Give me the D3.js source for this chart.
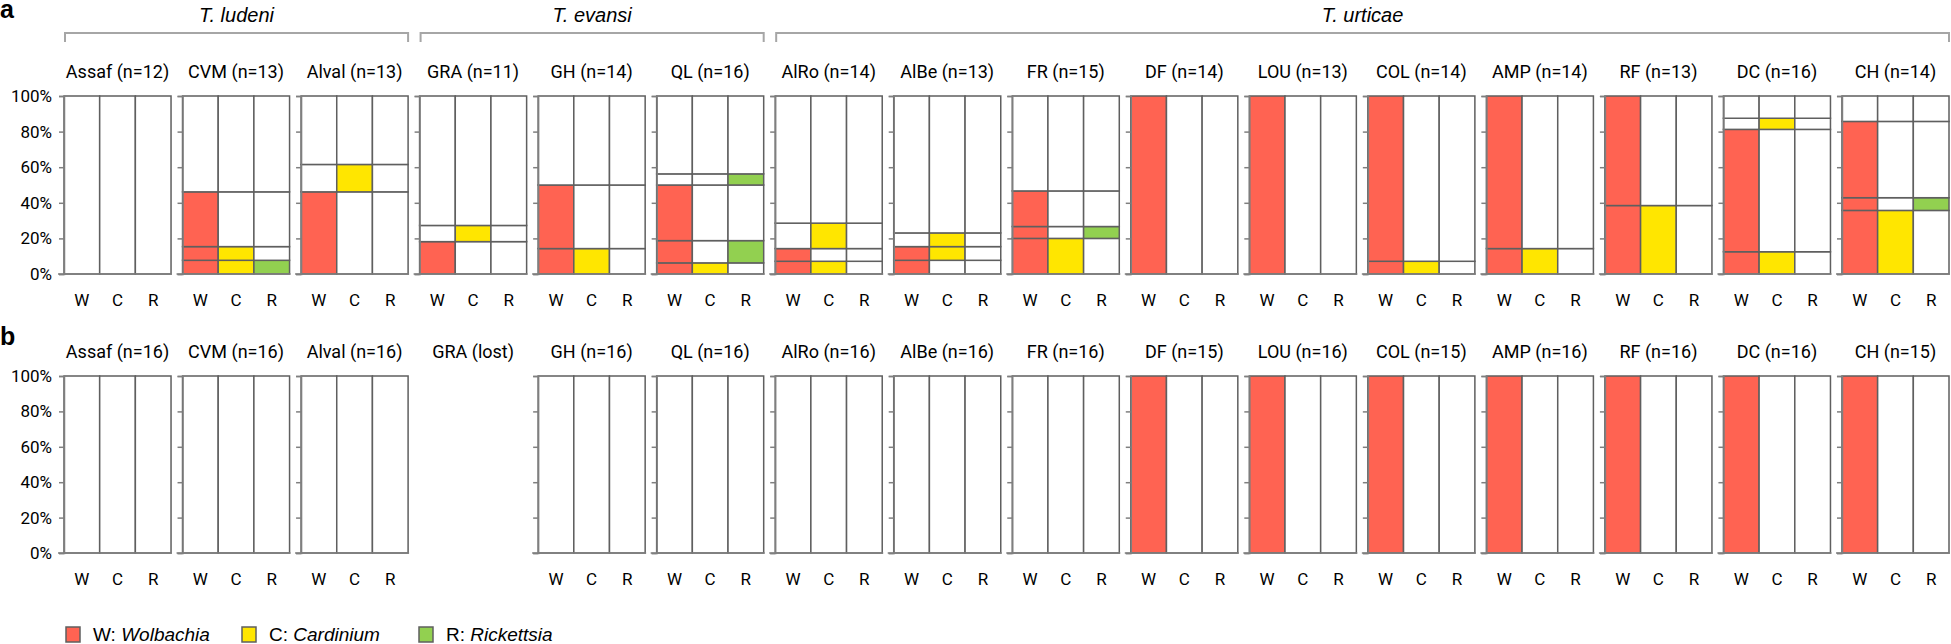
<!DOCTYPE html>
<html>
<head>
<meta charset="utf-8">
<script src="https://cdn.jsdelivr.net/npm/d3@7"></script>
<style>
  body { margin: 0; background: #fff; }
  text { fill: #000; }
</style>
</head>
<body>
<div id="chart"></div>
<script>
var width = 1951;
var height = 644;

// populations (same order in both panels)
var populations = ["Assaf", "CVM", "Alval", "GRA", "GH", "QL", "AlRo", "AlBe", "FR",
                   "DF", "LOU", "COL", "AMP", "RF", "DC", "CH"];
var nA = [12, 13, 13, 11, 14, 16, 14, 13, 15, 14, 13, 14, 14, 13, 16, 14];
var nB = [16, 16, 16, null, 16, 16, 16, 16, 16, 15, 16, 15, 16, 16, 16, 15];

// species brackets
var speciesNames = ["T. ludeni", "T. evansi", "T. urticae"];
var speciesFirst = ["Assaf", "GRA", "AlRo"];
var speciesLast = ["Alval", "QL", "CH"];

var symbionts = ["W", "C", "R"];
var symbiontNames = ["Wolbachia", "Cardinium", "Rickettsia"];
var symbiontColors = ["#ff6352", "#ffe600", "#92d050"];

// infection profiles per population, stacked from the bottom: [profile, number of mites]
// whatever is left up to n is uninfected
var bandsA = [
  [],
  [["WCR", 1], ["WC", 1], ["W", 4]],
  [["W", 6], ["C", 2]],
  [["W", 2], ["C", 1]],
  [["WC", 2], ["W", 5]],
  [["WC", 1], ["WR", 2], ["W", 5], ["R", 1]],
  [["WC", 1], ["W", 1], ["C", 2]],
  [["W", 1], ["WC", 1], ["C", 1]],
  [["WC", 3], ["WR", 1], ["W", 3]],
  [["W", 14]],
  [["W", 13]],
  [["WC", 1], ["W", 13]],
  [["WC", 2], ["W", 12]],
  [["WC", 5], ["W", 8]],
  [["WC", 2], ["W", 11], ["C", 1]],
  [["WC", 5], ["WR", 1], ["W", 6]]
];
var bandsB = [
  [], [], [], null, [], [], [], [], [],
  [["W", 15]],
  [["W", 16]],
  [["W", 15]],
  [["W", 16]],
  [["W", 16]],
  [["W", 16]],
  [["W", 15]]
];

var yTicks = [0, 0.2, 0.4, 0.6, 0.8, 1];

var lineCol = "#5f5f5f";
var axisCol = "#7f7f7f";

var svg = d3.select("#chart").append("svg")
  .attr("width", width)
  .attr("height", height)
  .style("font-family", "Roboto, 'Open Sans', sans-serif");

var xPanel = d3.scaleBand()
  .domain(populations)
  .range([64, 1949])
  .paddingInner(0.097)
  .paddingOuter(0);

var xBar = d3.scaleBand()
  .domain(symbionts)
  .range([0, xPanel.bandwidth()]);

var colorOf = d3.scaleOrdinal().domain(symbionts).range(symbiontColors);

// species labels and brackets
speciesNames.forEach(function (name, i) {
  var x0 = xPanel(speciesFirst[i]) + 1;
  var x1 = xPanel(speciesLast[i]) + xPanel.bandwidth();
  svg.append("path")
    .attr("d", "M" + x0 + ",42V33H" + x1 + "V42")
    .attr("fill", "none")
    .attr("stroke", "#a6a6a6")
    .attr("stroke-width", 2);
  svg.append("text")
    .attr("x", (x0 + x1) / 2)
    .attr("y", 22)
    .attr("text-anchor", "middle")
    .style("font-family", "'Liberation Sans', Arial, sans-serif")
    .style("font-style", "italic")
    .style("font-size", "20px")
    .text(name);
});

function drawRow(letter, letterY, counts, bands, top, bottom) {
  var y = d3.scaleLinear().domain([0, 1]).range([bottom, top]);

  svg.append("text")
    .attr("x", 0)
    .attr("y", letterY)
    .style("font-family", "'Liberation Sans', Arial, sans-serif")
    .style("font-weight", "bold")
    .style("font-size", "25px")
    .text(letter);

  populations.forEach(function (pop, i) {
    var px = xPanel(pop);
    var g = svg.append("g").attr("transform", "translate(" + px + ",0)");

    // title
    g.append("text")
      .attr("x", xPanel.bandwidth() / 2)
      .attr("y", top - 18)
      .attr("text-anchor", "middle")
      .style("font-size", "18px")
      .text(counts[i] == null ? pop + " (lost)" : pop + " (n=" + counts[i] + ")");

    if (bands[i] == null) return;

    var n = counts[i];
    // stack the bands, add the uninfected rest on top
    var stack = [];
    var acc = 0;
    bands[i].forEach(function (b) {
      stack.push({ profile: b[0], y0: acc / n, y1: (acc + b[1]) / n });
      acc += b[1];
    });
    if (acc < n) stack.push({ profile: "", y0: acc / n, y1: 1 });

    symbionts.forEach(function (s) {
      g.append("g").selectAll("rect")
        .data(stack)
        .enter()
        .append("rect")
        .attr("x", xBar(s))
        .attr("width", xBar.bandwidth())
        .attr("y", function (d) { return y(d.y1); })
        .attr("height", function (d) { return y(d.y0) - y(d.y1); })
        .attr("fill", function (d) { return d.profile.indexOf(s) >= 0 ? colorOf(s) : "#fff"; })
        .attr("stroke", lineCol)
        .attr("stroke-width", 1.5);
    });

    // left axis
    var axis = g.append("g")
      .call(d3.axisLeft(y).tickValues(yTicks).tickSize(5)
        .tickFormat(i === 0 ? d3.format(".0%") : function () { return ""; }));
    axis.select(".domain").attr("stroke", axisCol).attr("stroke-width", 1.5);
    axis.selectAll(".tick line").attr("stroke", axisCol).attr("stroke-width", 1.5);
    axis.selectAll(".tick text")
      .attr("x", -12)
      .style("font-family", "Roboto, sans-serif")
      .style("font-size", "17px")
      .attr("fill", "#000");

    // baseline
    g.append("line")
      .attr("x1", -6).attr("x2", xPanel.bandwidth() + 1)
      .attr("y1", y(0)).attr("y2", y(0))
      .attr("stroke", axisCol)
      .attr("stroke-width", 1.5);

    // bar labels
    g.selectAll(".blab")
      .data(symbionts)
      .enter()
      .append("text")
      .attr("x", function (d) { return xBar(d) + xBar.bandwidth() / 2; })
      .attr("y", bottom + 32)
      .attr("text-anchor", "middle")
      .style("font-size", "17px")
      .text(function (d) { return d; });
  });
}

drawRow("a", 18, nA, bandsA, 96, 274);
drawRow("b", 345, nB, bandsB, 376, 553);

// legend
var legendX = [66, 242, 419];
symbionts.forEach(function (s, i) {
  svg.append("rect")
    .attr("x", legendX[i]).attr("y", 627)
    .attr("width", 14).attr("height", 15)
    .attr("fill", symbiontColors[i])
    .attr("stroke", lineCol)
    .attr("stroke-width", 1.5);
  var t = svg.append("text")
    .attr("x", legendX[i] + 27)
    .attr("y", 641)
    .style("font-family", "'Liberation Sans', Arial, sans-serif")
    .style("font-size", "19px");
  t.append("tspan").text(s + ": ");
  t.append("tspan").style("font-style", "italic").text(symbiontNames[i]);
});
</script>
</body>
</html>
